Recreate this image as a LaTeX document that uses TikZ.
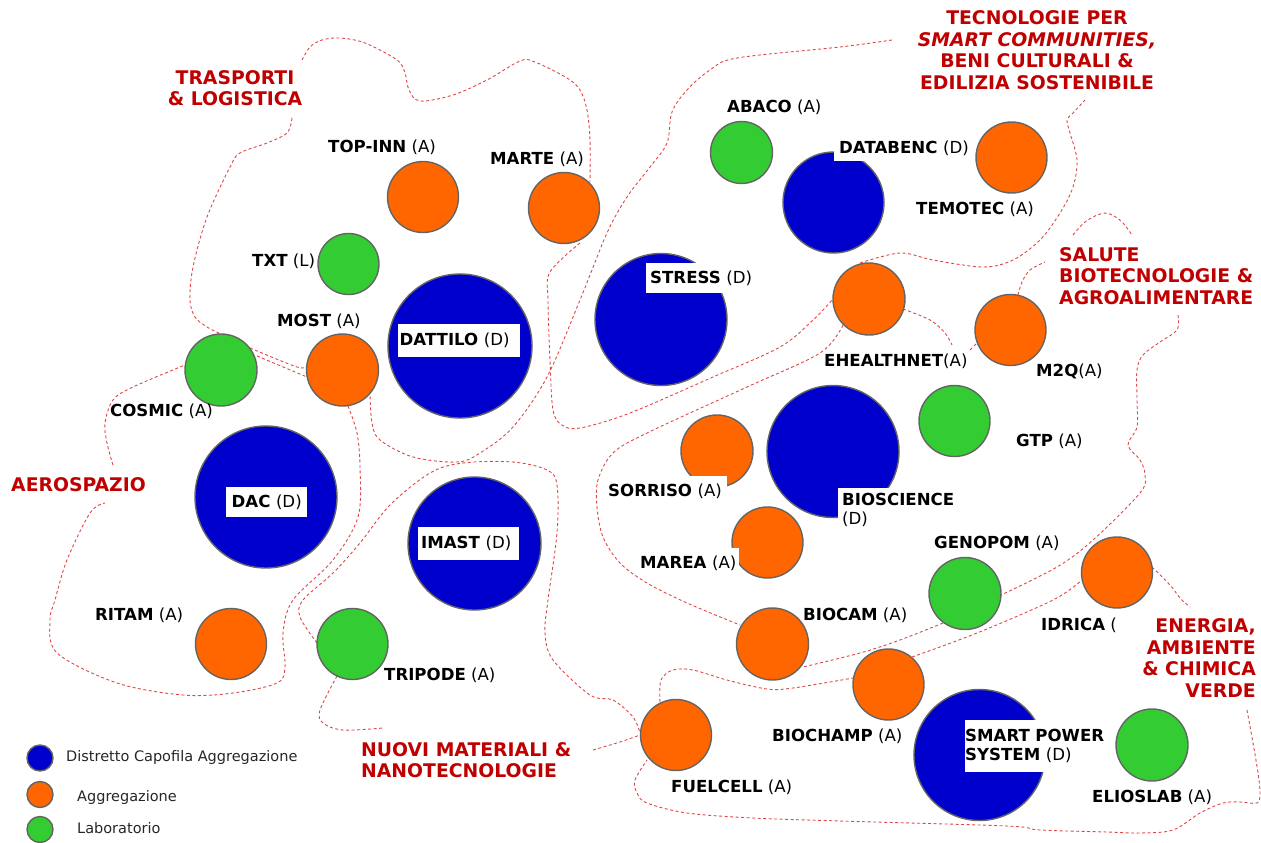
\documentclass[tikz,border=0pt]{standalone}
\usepackage{fontspec}
\setmainfont{DejaVu Sans}
\definecolor{cblue}{RGB}{0,0,204}
\definecolor{corange}{RGB}{255,102,0}
\definecolor{cgreen}{RGB}{51,204,51}
\definecolor{cborder}{RGB}{100,100,100}
\definecolor{cred}{RGB}{192,0,0}
\definecolor{cdash}{RGB}{225,70,70}
\tikzset{
 circ/.style={circle, draw=cborder, line width=1.4pt, inner sep=0pt},
 blu/.style={circ, fill=cblue},
 ora/.style={circ, fill=corange},
 gre/.style={circ, fill=cgreen},
 lab/.style={anchor=west, inner sep=0pt, font=\fontsize{16.6}{19}\selectfont, align=left},
 wlab/.style={lab, fill=white},
 area/.style={font=\fontsize{18.8}{21.5}\selectfont\bfseries, text=cred, inner sep=0pt},
 bound/.style={draw=cdash, line width=0.9pt, dash pattern=on 3pt off 2.5pt},
 leg/.style={anchor=west, inner sep=0pt, font=\fontsize{14.5}{16}\selectfont, text=black!85},
 smoothline/.style={smooth, tension=0.55},
}
\begin{document}
\begin{tikzpicture}[x=1pt,y=-1pt]
\useasboundingbox (0,0) rectangle (1261,843);

% ---------- dashed region boundaries ----------
\draw[bound] plot[smoothline] coordinates {(302,60) (310,47) (322,40) (340,38) (365,43) (397,60) (405,73) (409,90) (420,101) (453,95) (487,80) (520,61) (535,62) (567,78) (580,90) (587,110) (590,140) (590,182)};
\draw[bound] plot[smoothline] coordinates {(580,243) (550,272) (548,300) (550,360) (553,410) (562,425) (580,428) (630,413) (713,377) (780,347) (813,320) (833,299)};
\draw[bound] plot[smoothline] coordinates {(892,40) (840,47) (737,58) (710,70) (687,90) (672,112) (667,143) (650,167) (627,197) (607,233) (580,300) (547,377) (513,427) (480,453) (457,462) (413,457) (380,440) (372,423) (370,395)};
\draw[bound] plot[smoothline] coordinates {(860,263) (900,253) (933,260) (983,267) (1013,260) (1040,240) (1060,213) (1073,187) (1077,160) (1070,133) (1067,120) (1073,113) (1085,100)};
\draw[bound] plot[smoothline] coordinates {(903,309) (930,320) (945,333) (952,345)};
\draw[bound] (970,350) -- (977,343);
\draw[bound] plot[smoothline] coordinates {(1018,295) (1022,282) (1030,270) (1045,262)};
\draw[bound] plot[smoothline] coordinates {(1073,235) (1085,222) (1100,214) (1110,214) (1122,222) (1132,235)};
\draw[bound] plot[smoothline] coordinates {(1178,315) (1177,330) (1160,342) (1143,355) (1137,370) (1137,400) (1137,427) (1128,445) (1140,460) (1145,475) (1140,493) (1093,540) (1057,567) (1001,595)};
\draw[bound] plot[smoothline] coordinates {(943,623) (900,640) (860,653) (803,667)};
\draw[bound] plot[smoothline] coordinates {(843,325) (820,353) (747,387) (647,433) (613,453) (598,480) (597,507) (603,537) (620,563) (647,583) (687,603) (740,625)};
\draw[bound] plot[smoothline] coordinates {(660,702) (661,680) (673,670) (693,670) (727,680) (767,689) (793,688) (853,678)};
\draw[bound] plot[smoothline] coordinates {(912,657) (977,633) (1053,600) (1082,580)};
\draw[bound] plot[smoothline] coordinates {(1152,567) (1170,585) (1180,598) (1190,607)};
\draw[bound] plot[smoothline] coordinates {(1247,710) (1253,743) (1258,773) (1260,793) (1257,803) (1240,802) (1223,803) (1200,813) (1173,830) (1140,833) (1107,832) (1040,830) (1007,826) (840,821) (753,818) (687,813) (647,803) (637,793) (635,780) (647,760)};
\draw[bound] plot[smoothline] coordinates {(317,643) (300,617) (303,600) (333,573) (360,543) (390,505) (430,473) (463,463) (513,462) (547,470) (557,485) (557,533) (548,600) (545,633) (553,660) (590,695) (613,700) (633,717) (640,733)};
\draw[bound] plot[smoothline] coordinates {(337,676) (320,710) (323,723) (343,730) (383,728)};
\draw[bound] plot[smoothline] coordinates {(593,750) (620,742) (640,735)};
\draw[bound] plot[smoothline] coordinates {(292,118) (287,133) (267,143) (240,153) (230,167) (207,217) (193,267) (190,300) (195,317) (207,327) (221,334)};
\draw[bound] plot[smoothline] coordinates {(250,348) (297,367) (307,366)};
\draw[bound] (257,356) -- (307,377);
\draw[bound] plot[smoothline] coordinates {(113,465) (107,443) (105,423) (113,400) (133,387) (185,365)};
\draw[bound] plot[smoothline] coordinates {(348,406) (357,433) (360,467) (358,517) (333,560) (293,600) (283,633) (285,667) (277,683) (233,693) (183,695) (117,683) (57,653) (50,620) (55,600) (67,560) (90,513) (105,503)};

% ---------- circles ----------
\node[ora, minimum size=71pt] (topinn) at (423,197) {};
\node[ora, minimum size=71pt] (marte) at (564,208) {};
\node[gre, minimum size=62pt] (abaco) at (741.5,152.5) {};
\node[blu, minimum size=101pt] (databenc) at (833.5,202.5) {};
\node[ora, minimum size=71pt] (temotec) at (1011.5,157.5) {};
\node[gre, minimum size=61pt] (txt) at (348.5,264) {};
\node[blu, minimum size=144pt] (dattilo) at (460,346) {};
\node[blu, minimum size=132pt] (stress) at (661,319.5) {};
\node[ora, minimum size=72pt] (ehealth) at (869,299) {};
\node[ora, minimum size=71pt] (m2q) at (1010.5,330) {};
\node[gre, minimum size=72pt] (cosmic) at (221,370) {};
\node[ora, minimum size=72pt] (most) at (342.5,370) {};
\node[blu, minimum size=142pt] (dac) at (266,497) {};
\node[blu, minimum size=133pt] (imast) at (474.5,543.5) {};
\node[ora, minimum size=72pt] (sorriso) at (717,451) {};
\node[blu, minimum size=132pt] (bioscience) at (833,451.5) {};
\node[gre, minimum size=71pt] (gtp) at (954.5,421) {};
\node[ora, minimum size=71pt] (marea) at (767.5,542.5) {};
\node[gre, minimum size=72pt] (genopom) at (965,593.5) {};
\node[ora, minimum size=71pt] (idrica) at (1117,572.5) {};
\node[ora, minimum size=72pt] (biocam) at (772.5,644) {};
\node[ora, minimum size=71pt] (biochamp) at (888.5,684.5) {};
\node[ora, minimum size=71pt] (ritam) at (231,644) {};
\node[gre, minimum size=71pt] (tripode) at (352.5,644) {};
\node[ora, minimum size=71pt] (fuelcell) at (676,735) {};
\node[blu, minimum size=131pt] (sps) at (979.5,755) {};
\node[gre, minimum size=72pt] (elioslab) at (1152,745) {};

% ---------- labels ----------
\node[lab] (ltopinn) at (328,147) {\textbf{TOP-INN} (A)};
\node[lab] (lmarte) at (490,159) {\textbf{MARTE} (A)};
\node[lab] (labaco) at (727,107) {\textbf{ABACO} (A)};
\node[wlab, minimum height=26pt, text width=131pt, inner xsep=5pt] (ldatabenc) at (834,148) {\mbox{\textbf{DATABENC} (D)}};
\node[lab] (ltemotec) at (916,209) {\textbf{TEMOTEC} (A)};
\node[lab] (ltxt) at (252,261) {\textbf{TXT} (L)};
\node[lab] (lmost) at (277,321) {\textbf{MOST} (A)};
\node[wlab, minimum height=33pt, text width=119pt, inner xsep=1.5pt] (ldattilo) at (398,340.5) {\mbox{\textbf{DATTILO} (D)}};
\node[wlab, minimum height=30pt, text width=104pt, inner xsep=4pt] (lstress) at (646,278) {\mbox{\textbf{STRESS} (D)}};
\node[lab] (lehealth) at (824,361) {\textbf{EHEALTHNET}(A)};
\node[lab] (lm2q) at (1036,371) {\textbf{M2Q}(A)};
\node[lab] (lcosmic) at (110,411) {\textbf{COSMIC} (A)};
\node[wlab, minimum height=30pt, text width=81pt, inner xsep=0pt, align=center] (ldac) at (226,502) {\mbox{\textbf{DAC} (D)}};
\node[wlab, minimum height=33pt, text width=95pt, inner xsep=3pt] (limast) at (418,543.5) {\mbox{\textbf{IMAST} (D)}};
\node[wlab, minimum height=30pt, text width=116pt, inner xsep=3pt] (lsorriso) at (605,491) {\mbox{\textbf{SORRISO} (A)}};
\node[wlab, minimum height=45pt, text width=114pt, inner xsep=4pt] (lbioscience) at (838,510) {\textbf{BIOSCIENCE}\\(D)};
\node[lab] (lgtp) at (1016,441) {\textbf{GTP} (A)};
\node[wlab, minimum height=30pt, text width=97pt, inner xsep=2pt] (lmarea) at (638,563) {\mbox{\textbf{MAREA} (A)}};
\node[lab] (lgenopom) at (934,543) {\textbf{GENOPOM} (A)};
\begin{scope}
\clip (1030,608) rectangle (1115,642);
\node[lab] (lidrica) at (1041,625) {\textbf{IDRICA} (A)};
\end{scope}
\node[lab] (lbiocam) at (803,615) {\textbf{BIOCAM} (A)};
\node[lab] (lritam) at (95,615) {\textbf{RITAM} (A)};
\node[lab] (ltripode) at (384,675) {\textbf{TRIPODE} (A)};
\node[lab] (lbiochamp) at (772,736) {\textbf{BIOCHAMP} (A)};
\node[wlab, minimum height=52pt, text width=139pt, inner xsep=0pt] (lsps) at (965,746) {\textbf{SMART POWER}\\\textbf{SYSTEM} (D)};
\node[lab] (lfuelcell) at (671,787) {\textbf{FUELCELL} (A)};
\node[lab] (lelioslab) at (1092,797) {\textbf{ELIOSLAB} (A)};

% ---------- area titles ----------
\node[area, align=center] (atras) at (235,88) {TRASPORTI\\\& LOGISTICA};
\node[area, align=center] (atec) at (1037,50) {TECNOLOGIE PER\\\textit{SMART COMMUNITIES,}\\BENI CULTURALI \&\\EDILIZIA SOSTENIBILE};
\node[area, align=left, anchor=west] (asal) at (1059,276) {SALUTE\\BIOTECNOLOGIE \&\\AGROALIMENTARE};
\node[area, anchor=west] (aaero) at (11,485) {AEROSPAZIO};
\node[area, align=left, anchor=west] (anuovi) at (361,760) {NUOVI MATERIALI \&\\NANOTECNOLOGIE};
\node[area, align=right, anchor=east] (aene) at (1256,658) {ENERGIA,\\AMBIENTE\\\& CHIMICA\\VERDE};

% ---------- legend ----------
\node[blu, minimum size=26pt] (legd) at (40,758) {};
\node[ora, minimum size=26pt] (lega) at (40,794.5) {};
\node[gre, minimum size=26pt] (legl) at (40,829.5) {};
\node[leg] (legdt) at (66,757) {Distretto Capofila Aggregazione};
\node[leg] (legat) at (77,797) {Aggregazione};
\node[leg] (leglt) at (77,828) {Laboratorio};
\end{tikzpicture}
\end{document}
